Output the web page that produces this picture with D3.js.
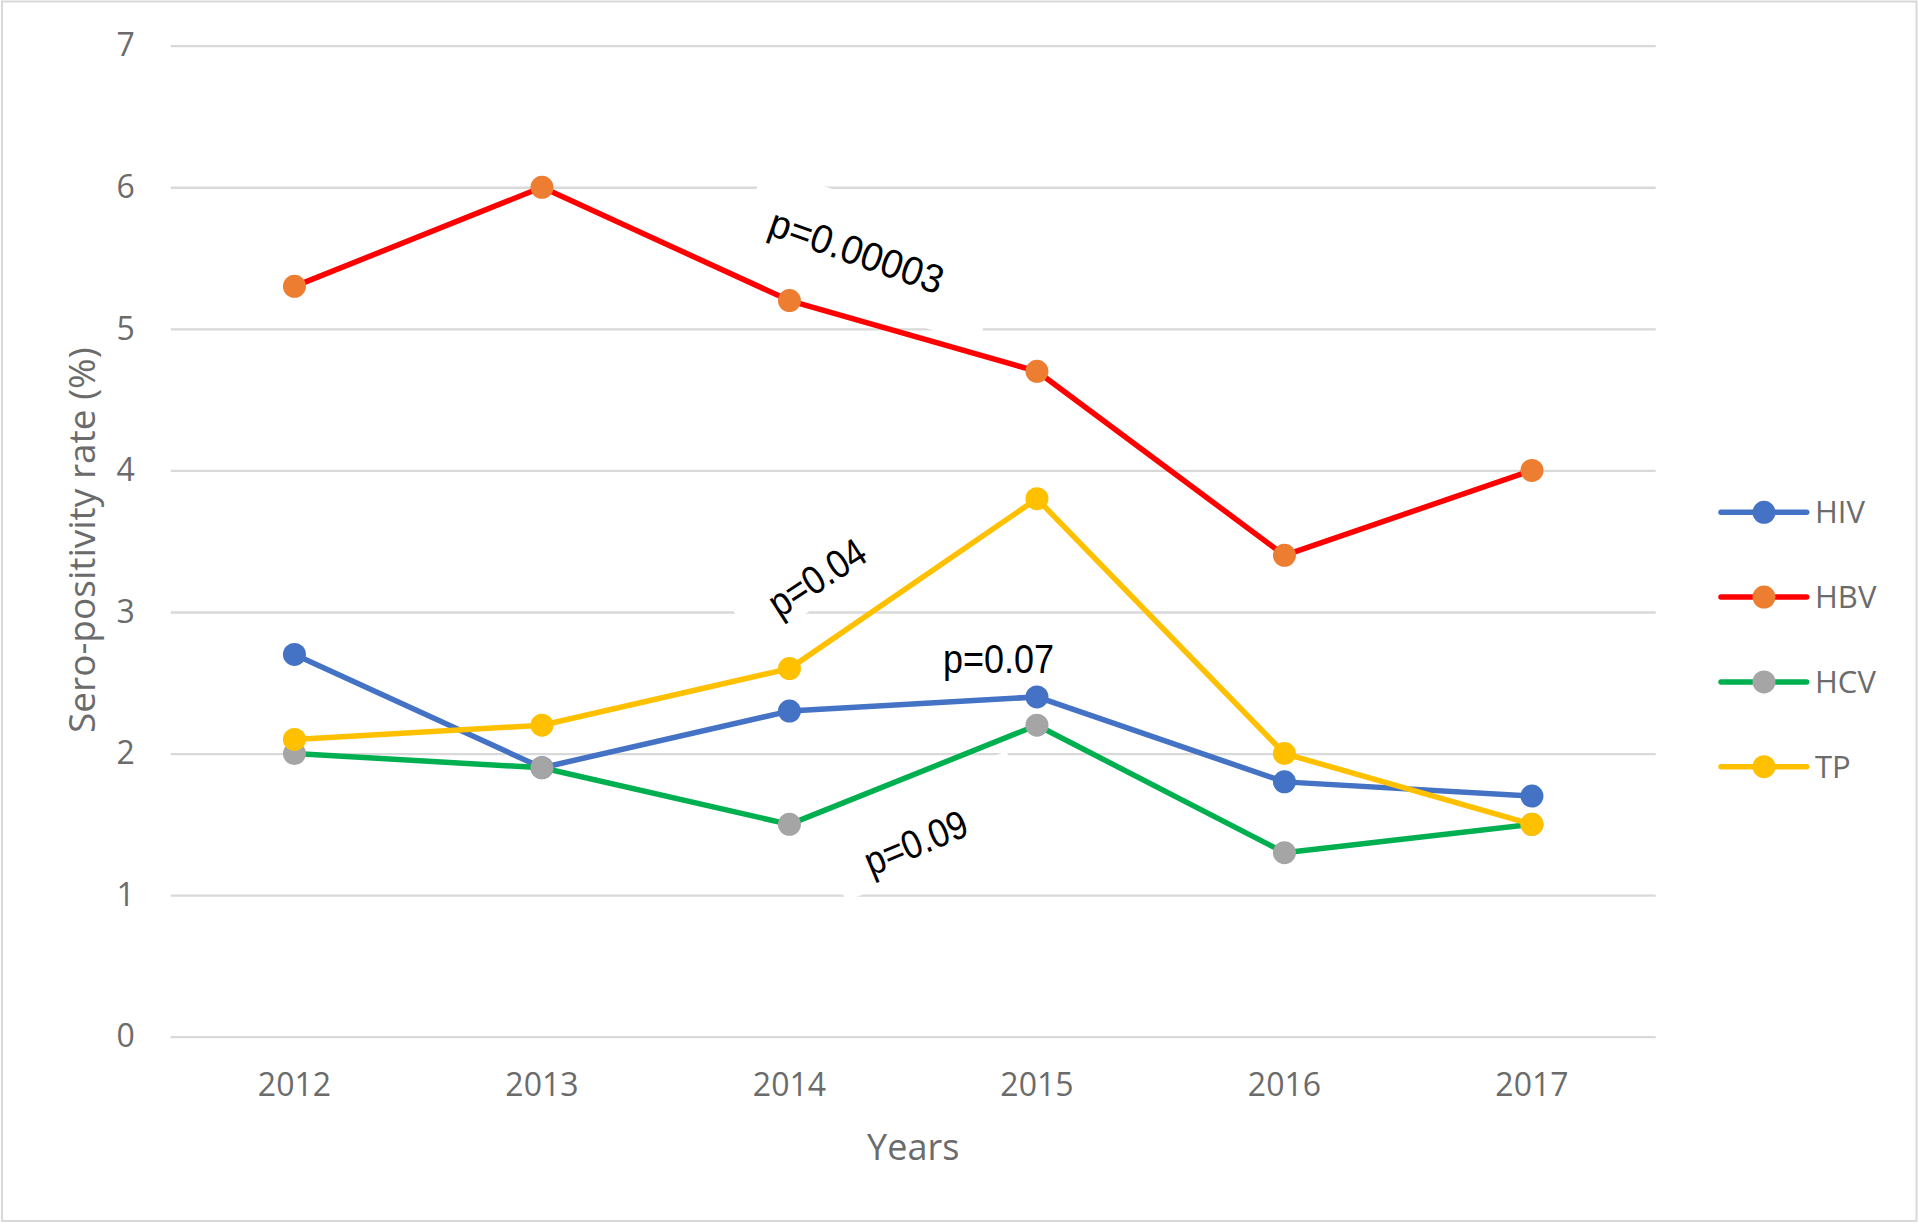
<!DOCTYPE html>
<html>
<head>
<meta charset="utf-8">
<script src="https://cdn.jsdelivr.net/npm/d3@7"></script>
<style>
  html, body { margin: 0; padding: 0; background: #ffffff; }
  svg { display: block; }
</style>
</head>
<body>
<div id="chart"></div>
<script>
// ---------------- data ----------------
const categories = ["2012", "2013", "2014", "2015", "2016", "2017"];
const seriesNames = ["HIV", "HBV", "HCV", "TP"];
const hivValues = [2.7, 1.9, 2.3, 2.4, 1.8, 1.7];
const hbvValues = [5.3, 6.0, 5.2, 4.7, 3.4, 4.0];
const hcvValues = [2.0, 1.9, 1.5, 2.2, 1.3, 1.5];
const tpValues  = [2.1, 2.2, 2.6, 3.8, 2.0, 1.5];
const yTickValues = [0, 1, 2, 3, 4, 5, 6, 7];
const pValueLabels = ["p=0.00003", "p=0.04", "p=0.07", "p=0.09"];
const yAxisTitle = "Sero-positivity rate (%)";
const xAxisTitle = "Years";

// ---------------- layout / style ----------------
const W = 1919, H = 1224;
const plot = { left: 170.7, right: 1655.7, top: 45.7, bottom: 1036.7 };
const lineColors   = { HIV: "#4472C4", HBV: "#FF0000", HCV: "#00B050", TP: "#FFC000" };
const markerColors = { HIV: "#4472C4", HBV: "#ED7D31", HCV: "#A5A5A5", TP: "#FFC000" };
const seriesValues = { HIV: hivValues, HBV: hbvValues, HCV: hcvValues, TP: tpValues };
const axisFont = "'Open Sans', 'Noto Sans', sans-serif";
const labelColor = "#6b6b6b";
const gridColor = "#d9d9d9";

const svg = d3.select("#chart").append("svg")
  .attr("width", W).attr("height", H)
  .attr("viewBox", `0 0 ${W} ${H}`);

svg.append("rect").attr("x", 0).attr("y", 0).attr("width", W).attr("height", H).attr("fill", "#fff");
svg.append("rect").attr("x", 2).attr("y", 1.5).attr("width", W - 4.5).attr("height", H - 4.5)
  .attr("fill", "none").attr("stroke", gridColor).attr("stroke-width", 2);

const x = d3.scaleBand().domain(categories).range([plot.left, plot.right]).padding(0);
const y = d3.scaleLinear().domain([0, 7]).range([plot.bottom, plot.top]);
const xc = c => x(c) + x.bandwidth() / 2;
// fractional category position (for annotations placed between categories)
const xIdx = i => plot.left + x.bandwidth() * (i + 0.5);

// ---- y axis with gridlines ----
const yAxis = d3.axisLeft(y).tickValues(yTickValues).tickFormat(d3.format("d"))
  .tickSize(-(plot.right - plot.left)).tickPadding(36);
const gy = svg.append("g").attr("transform", `translate(${plot.left},0)`).call(yAxis);
gy.select(".domain").remove();
gy.selectAll(".tick line").attr("stroke", gridColor).attr("stroke-width", 2.3);
gy.selectAll(".tick text").attr("fill", labelColor).style("font-family", axisFont).style("font-size", "32px");

// ---- x axis ----
const xAxis = d3.axisBottom(x).tickSize(0).tickPadding(37);
const gx = svg.append("g").attr("transform", `translate(0,${plot.bottom})`).call(xAxis);
gx.select(".domain").remove();
gx.selectAll(".tick text").attr("fill", labelColor).style("font-family", axisFont).style("font-size", "32px");

// ---- axis titles ----
svg.append("text")
  .attr("transform", `translate(82,${(plot.top + plot.bottom) / 2 - 1}) rotate(-90)`)
  .attr("text-anchor", "middle").attr("dy", "0.35em")
  .attr("fill", labelColor).style("font-family", axisFont).style("font-size", "37px")
  .text(yAxisTitle);
svg.append("text")
  .attr("x", (plot.left + plot.right) / 2).attr("y", 1147)
  .attr("text-anchor", "middle").attr("dy", "0.35em")
  .attr("fill", labelColor).style("font-family", axisFont).style("font-size", "36px")
  .text(xAxisTitle);

// ---- annotation boxes (white text boxes that hide the gridlines) ----
const annFont = "'Liberation Sans', Arial, sans-serif";
const annotations = [
  { text: pValueLabels[0], idx: 2.272, val: 5.552, angle: 19.4, size: 40, len: 182, tx: 0, ty: 0, box: [-115, -50, 260, 100] },
  { text: pValueLabels[1], idx: 2.110, val: 3.191, angle: -33, size: 40, len: 108, tx: 4.4, ty: -6.7, box: [-84, -45, 174, 63] },
  { text: pValueLabels[2], idx: 2.845, val: 2.57, angle: 0, size: 40, len: 111, tx: 0, ty: 0, box: [-88.5, -55, 213, 90] },
  { text: pValueLabels[3], idx: 2.507, val: 1.366, angle: -22.7, size: 40, len: 108, tx: 1, ty: -1, box: [-86, -50, 206, 77] }
];
const annG = svg.append("g");
annotations.forEach(a => {
  const g = annG.append("g")
    .attr("transform", `translate(${xIdx(a.idx)},${y(a.val)}) rotate(${a.angle})`);
  g.append("rect").attr("x", a.box[0]).attr("y", a.box[1])
    .attr("width", a.box[2]).attr("height", a.box[3]).attr("fill", "#fff");
});

// ---- series ----
const line = d3.line().x((d, i) => xc(categories[i])).y(d => y(d));
seriesNames.forEach(name => {
  const vals = seriesValues[name];
  const g = svg.append("g");
  g.append("path").datum(vals).attr("d", line)
    .attr("fill", "none").attr("stroke", lineColors[name]).attr("stroke-width", 5.5)
    .attr("stroke-linejoin", "round").attr("stroke-linecap", "round");
  g.selectAll("circle").data(vals).join("circle")
    .attr("cx", (d, i) => xc(categories[i])).attr("cy", d => y(d))
    .attr("r", 11.5).attr("fill", markerColors[name]);
});

// ---- annotation texts (on top) ----
annotations.forEach(a => {
  svg.append("text")
    .attr("transform", `translate(${xIdx(a.idx)},${y(a.val)}) rotate(${a.angle}) translate(${a.tx},${a.ty})`)
    .attr("text-anchor", "middle").attr("dy", a.angle === 0 ? "0" : "0.36em")
    .attr("textLength", a.len).attr("lengthAdjust", "spacingAndGlyphs")
    .attr("fill", "#000").style("font-family", annFont).style("font-size", a.size + "px")
    .text(a.text);
});

// ---- legend ----
const legendX1 = 1721, legendX2 = 1806.7, legendMarkerX = 1764, legendTextX = 1815;
const legendY = d3.scalePoint().domain(seriesNames).range([512.3, 766.7]);
const lg = svg.append("g");
seriesNames.forEach(name => {
  const yy = legendY(name);
  lg.append("line").attr("x1", legendX1).attr("x2", legendX2).attr("y1", yy).attr("y2", yy)
    .attr("stroke", lineColors[name]).attr("stroke-width", 5.5).attr("stroke-linecap", "round");
  lg.append("circle").attr("cx", legendMarkerX).attr("cy", yy).attr("r", 11.5).attr("fill", markerColors[name]);
  lg.append("text").attr("x", legendTextX).attr("y", yy).attr("dy", "0.35em")
    .attr("fill", labelColor).style("font-family", axisFont).style("font-size", "31px")
    .text(name);
});
</script>
</body>
</html>
